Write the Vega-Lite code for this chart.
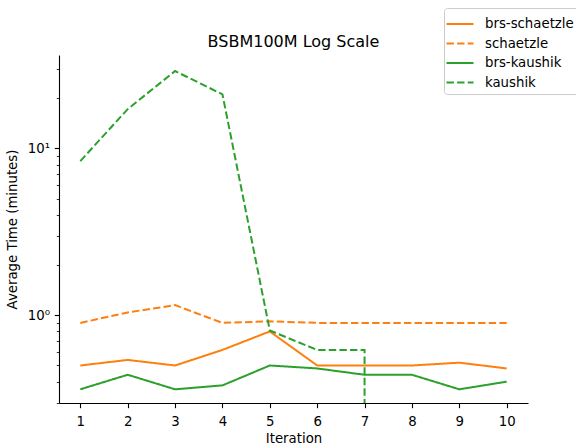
{
  "$schema": "https://vega.github.io/schema/vega-lite/v6.json",
  "width": 469,
  "height": 348,
  "autosize": {"type": "none"},
  "padding": {"left": 59, "top": 55, "right": 48, "bottom": 43},
  "background": "white",
  "config": {
    "view": {"stroke": null},
    "font": "DejaVu Sans",
    "axis": {"labelFont": "DejaVu Sans", "titleFont": "DejaVu Sans", "labelFontSize": 13.3, "titleFontSize": 13.3, "titleFontWeight": "normal", "labelColor": "#000", "titleColor": "#000", "domainColor": "#000", "tickColor": "#000", "grid": false},
    "legend": {"labelFont": "DejaVu Sans", "labelFontSize": 13.3, "labelColor": "#000"}
  },
  "title": {"text": "BSBM100M Log Scale", "fontSize": 16, "fontWeight": "normal", "font": "DejaVu Sans", "color": "#000", "offset": 6, "dy": 48},
  "data": {"values": [
    {"iter": 1, "series": "brs-schaetzle", "time": 0.50},
    {"iter": 2, "series": "brs-schaetzle", "time": 0.54},
    {"iter": 3, "series": "brs-schaetzle", "time": 0.50},
    {"iter": 4, "series": "brs-schaetzle", "time": 0.62},
    {"iter": 5, "series": "brs-schaetzle", "time": 0.80},
    {"iter": 6, "series": "brs-schaetzle", "time": 0.50},
    {"iter": 7, "series": "brs-schaetzle", "time": 0.50},
    {"iter": 8, "series": "brs-schaetzle", "time": 0.50},
    {"iter": 9, "series": "brs-schaetzle", "time": 0.52},
    {"iter": 10, "series": "brs-schaetzle", "time": 0.48},
    {"iter": 1, "series": "schaetzle", "time": 0.90},
    {"iter": 2, "series": "schaetzle", "time": 1.04},
    {"iter": 3, "series": "schaetzle", "time": 1.15},
    {"iter": 4, "series": "schaetzle", "time": 0.90},
    {"iter": 5, "series": "schaetzle", "time": 0.92},
    {"iter": 6, "series": "schaetzle", "time": 0.90},
    {"iter": 7, "series": "schaetzle", "time": 0.90},
    {"iter": 8, "series": "schaetzle", "time": 0.90},
    {"iter": 9, "series": "schaetzle", "time": 0.90},
    {"iter": 10, "series": "schaetzle", "time": 0.90},
    {"iter": 1, "series": "brs-kaushik", "time": 0.36},
    {"iter": 2, "series": "brs-kaushik", "time": 0.44},
    {"iter": 3, "series": "brs-kaushik", "time": 0.36},
    {"iter": 4, "series": "brs-kaushik", "time": 0.38},
    {"iter": 5, "series": "brs-kaushik", "time": 0.50},
    {"iter": 6, "series": "brs-kaushik", "time": 0.48},
    {"iter": 7, "series": "brs-kaushik", "time": 0.44},
    {"iter": 8, "series": "brs-kaushik", "time": 0.44},
    {"iter": 9, "series": "brs-kaushik", "time": 0.36},
    {"iter": 10, "series": "brs-kaushik", "time": 0.40},
    {"iter": 1, "series": "kaushik", "time": 8.4},
    {"iter": 2, "series": "kaushik", "time": 17.2},
    {"iter": 3, "series": "kaushik", "time": 29.1},
    {"iter": 4, "series": "kaushik", "time": 21.1},
    {"iter": 5, "series": "kaushik", "time": 0.81},
    {"iter": 6, "series": "kaushik", "time": 0.62},
    {"iter": 7, "series": "kaushik", "time": 0.62},
    {"iter": 7.0001, "series": "kaushik", "time": 0.001}
  ]},
  "mark": {"type": "line", "strokeWidth": 2, "clip": true},
  "encoding": {
    "x": {"field": "iter", "type": "quantitative", "scale": {"domain": [0.55, 10.45], "nice": false, "zero": false},
      "axis": {"values": [1,2,3,4,5,6,7,8,9,10], "title": "Iteration", "tickSize": 4.7, "labelPadding": 7, "titlePadding": 3, "domainWidth": 1.1, "tickWidth": 1.1, "labelFlush": false}},
    "y": {"field": "time", "type": "quantitative", "scale": {"type": "log", "domain": [0.298, 36.3], "nice": false},
      "axis": {"values": [0.3,0.4,0.5,0.6,0.7,0.8,0.9,1,2,3,4,5,6,7,8,9,10,20,30], "title": "Average Time (minutes)", "labelExpr": "datum.value == 1 ? '10⁰' : (datum.value == 10 ? '10¹' : '')",
        "tickSize": {"condition": {"test": "datum.value == 1 || datum.value == 10", "value": 4.7}, "value": 2.7},
        "tickWidth": {"condition": {"test": "datum.value == 1 || datum.value == 10", "value": 1.1}, "value": 0.8},
        "labelPadding": 4.7, "titlePadding": 8, "domainWidth": 1.1}},
    "color": {"field": "series", "type": "nominal", "scale": {"domain": ["brs-schaetzle", "schaetzle", "brs-kaushik", "kaushik"], "range": ["#ff7f0e", "#ff7f0e", "#2ca02c", "#2ca02c"]},
      "legend": {"title": null, "orient": "none", "legendX": 385, "legendY": -47, "symbolType": "M-1.35,0H1.35", "symbolSize": 400, "symbolStrokeWidth": 2, "strokeColor": "#cccccc", "fillColor": "white", "padding": 5, "cornerRadius": 3, "rowPadding": 1.5, "labelOffset": 14}},
    "strokeDash": {"field": "series", "type": "nominal", "scale": {"domain": ["brs-schaetzle", "schaetzle", "brs-kaushik", "kaushik"], "range": [[1,0],[7.4,3.2],[1,0],[7.4,3.2]]},
      "legend": {"title": null, "orient": "none", "legendX": 385, "legendY": -47, "symbolType": "M-1.35,0H1.35", "symbolSize": 400, "symbolStrokeWidth": 2, "strokeColor": "#cccccc", "fillColor": "white", "padding": 5, "cornerRadius": 3, "rowPadding": 1.5, "labelOffset": 14}}
  }
}
